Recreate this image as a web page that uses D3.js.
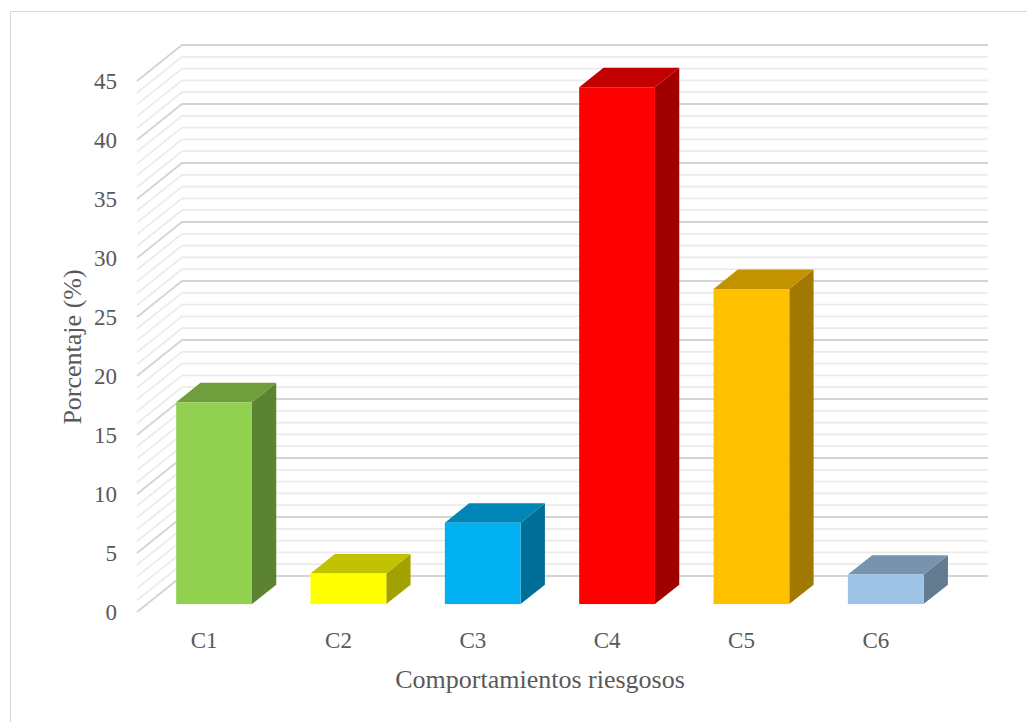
<!DOCTYPE html>
<html>
<head>
<meta charset="utf-8">
<script src="https://cdn.jsdelivr.net/npm/d3@7"></script>
<style>
  body { margin: 0; background: #fff; }
  text { font-family: "Liberation Serif", "Times New Roman", serif; fill: #595959; }
</style>
</head>
<body>
<svg id="chart" width="1027" height="722"></svg>
<script>
'use strict'

// data
const categories = ['C1', 'C2', 'C3', 'C4', 'C5', 'C6']
const values = [17.1, 2.6, 6.9, 43.8, 26.7, 2.5]
const barColors = ['#92d050', '#ffff00', '#00b0f0', '#ff0000', '#ffc000', '#9dc3e6']
const yTicks = [0, 5, 10, 15, 20, 25, 30, 35, 40, 45]

// 3d look: depth vector from the front plane to the back wall
const depth = { dx: 45, dy: -36 }
const barDepth = [0.22, 0.76]

const svg = d3.select('#chart')

// chart border
svg.append('rect')
  .attr('x', 10.5).attr('y', 11.5)
  .attr('width', 1040).attr('height', 740)
  .attr('fill', '#fff')
  .attr('stroke', '#d9d9d9')
  .attr('stroke-width', 1)

const xScale = d3.scaleBand()
  .domain(categories)
  .range([137, 943])
  .paddingInner(0.436)
  .paddingOuter(0.218)

const yScale = d3.scaleLinear()
  .domain([0, 45])
  .range([612, 612 - 45 * 11.8])

const xLeft = xScale.range()[0]
const xRight = xScale.range()[1]

// gridlines: minor every 1, major every 5, with the left wall diagonal
const gridValues = d3.range(0, 46)
const grid = svg.append('g').attr('class', 'grid')
grid.selectAll('path')
  .data(gridValues.filter(v => v % 5 !== 0).concat(yTicks))
  .enter()
  .append('path')
  .attr('d', v => {
    let y = yScale(v)
    return 'M' + xLeft + ',' + y +
      'L' + (xLeft + depth.dx) + ',' + (y + depth.dy) +
      'L' + (xRight + depth.dx) + ',' + (y + depth.dy)
  })
  .attr('fill', 'none')
  .attr('stroke', v => v % 5 === 0 ? '#d4d4d4' : '#ebebeb')
  .attr('stroke-width', 1.8)

// bars as boxes
function shade (c, f) {
  let r = d3.rgb(c)
  return d3.rgb(r.r * f, r.g * f, r.b * f).formatHex()
}

const bars = svg.append('g').attr('class', 'bars')
categories.forEach((c, i) => {
  let w = xScale.bandwidth()
  let fx = xScale(c) + depth.dx * barDepth[0]
  let fyTop = yScale(values[i]) + depth.dy * barDepth[0]
  let fyBot = yScale(0) + depth.dy * barDepth[0]
  let bdx = depth.dx * (barDepth[1] - barDepth[0])
  let bdy = depth.dy * (barDepth[1] - barDepth[0])
  let g = bars.append('g')

  g.append('polygon')
    .attr('points', [[fx + w, fyTop], [fx + w + bdx, fyTop + bdy],
      [fx + w + bdx, fyBot + bdy], [fx + w, fyBot]].join(' '))
    .attr('fill', shade(barColors[i], 0.63))

  g.append('polygon')
    .attr('points', [[fx, fyTop], [fx + bdx, fyTop + bdy],
      [fx + w + bdx, fyTop + bdy], [fx + w, fyTop]].join(' '))
    .attr('fill', shade(barColors[i], 0.76))

  g.append('rect')
    .attr('x', fx).attr('y', fyTop)
    .attr('width', w).attr('height', fyBot - fyTop)
    .attr('fill', barColors[i])
})

// y tick labels
svg.append('g')
  .selectAll('text')
  .data(yTicks)
  .enter()
  .append('text')
  .attr('x', 117)
  .attr('y', d => yScale(d))
  .attr('dy', '0.35em')
  .attr('text-anchor', 'end')
  .attr('font-size', 23)
  .text(d => d)

// x tick labels
svg.append('g')
  .selectAll('text')
  .data(categories)
  .enter()
  .append('text')
  .attr('x', d => xScale(d) + xScale.bandwidth() / 2)
  .attr('y', 648)
  .attr('text-anchor', 'middle')
  .attr('font-size', 23)
  .text(d => d)

// axis titles
svg.append('text')
  .attr('x', 540)
  .attr('y', 688)
  .attr('text-anchor', 'middle')
  .attr('font-size', 26)
  .text('Comportamientos riesgosos')

svg.append('text')
  .attr('transform', 'translate(81,347) rotate(-90)')
  .attr('text-anchor', 'middle')
  .attr('font-size', 26)
  .text('Porcentaje (%)')
</script>
</body>
</html>
